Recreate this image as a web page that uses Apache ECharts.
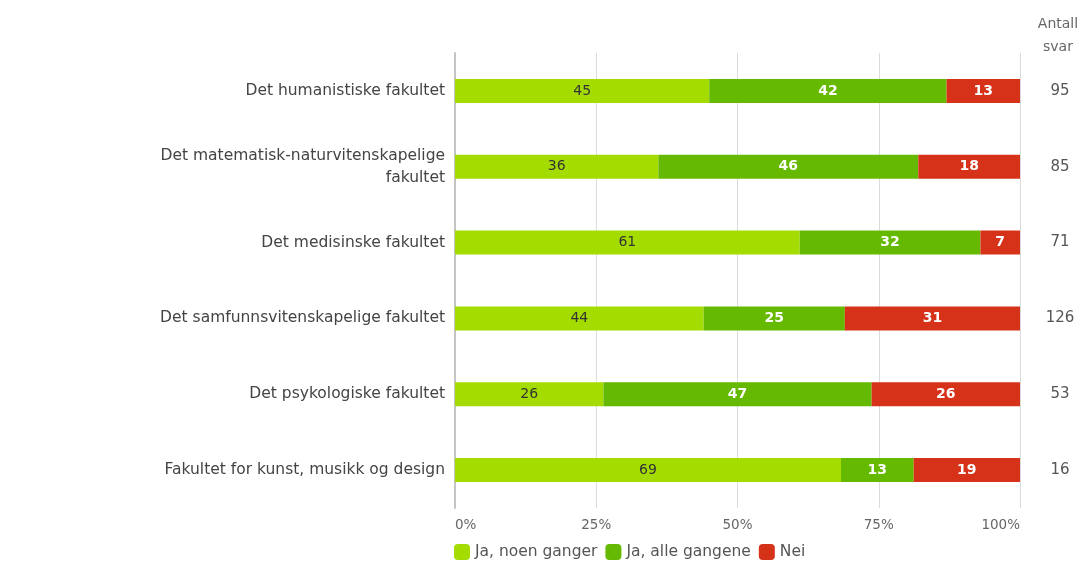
<!DOCTYPE html>
<html lang="no">
<head>
  <meta charset="UTF-8">
  <title>Svar per fakultet</title>
  <style>
    * { box-sizing: border-box; padding: 0; margin: 0; }
    html, body, #main { width: 100%; height: 100%; background: #fff; }
  </style>
  <script src="https://cdn.jsdelivr.net/npm/echarts@6/dist/echarts.min.js"></script>
</head>
<body>
  <div id="main"></div>
  <script>
    var categories = [
      'Det humanistiske fakultet',
      'Det matematisk-naturvitenskapelige\nfakultet',
      'Det medisinske fakultet',
      'Det samfunnsvitenskapelige fakultet',
      'Det psykologiske fakultet',
      'Fakultet for kunst, musikk og design'
    ];
    var noenGanger = [45, 36, 61, 44, 26, 69];
    var alleGangene = [42, 46, 32, 25, 47, 13];
    var nei = [13, 18, 7, 31, 26, 19];
    var antallSvar = [95, 85, 71, 126, 53, 16];
    var xTicks = [0, 25, 50, 75, 100];

    var font = '"DejaVu Sans", Verdana, sans-serif';

    // stolpene fylles til 100 %, etikettene viser avrundet verdi
    function share(arr, i) {
      var sum = noenGanger[i] + alleGangene[i] + nei[i];
      return { value: arr[i] / sum * 100, raw: arr[i] };
    }
    function mkSeries(name, arr, color, labelColor, bold) {
      return {
        name: name,
        type: 'bar',
        stack: 'total',
        barWidth: 24,
        itemStyle: { color: color },
        label: {
          show: true,
          color: labelColor,
          fontWeight: bold ? 'bold' : 'normal',
          fontSize: 14,
          fontFamily: font,
          formatter: function (p) { return p.data.raw; }
        },
        data: arr.map(function (v, i) { return share(arr, i); })
      };
    }

    var myChart = echarts.init(document.getElementById('main'));
    var option = {
      animation: false,
      textStyle: { fontFamily: font },
      grid: { left: 455, right: 65, top: 53, bottom: 56 },
      legend: {
        left: 454,
        bottom: 4,
        padding: 0,
        itemWidth: 16,
        itemHeight: 16,
        itemGap: 8,
        icon: 'roundRect',
        textStyle: { fontSize: 15.5, color: '#555', fontFamily: font, padding: [0, 0, 0, 0] },
        data: ['Ja, noen ganger', 'Ja, alle gangene', 'Nei']
      },
      graphic: [{
        type: 'text',
        x: 1058,
        y: 13,
        style: {
          text: 'Antall\nsvar',
          align: 'center',
          verticalAlign: 'top',
          fill: '#666',
          font: '14px ' + font,
          lineHeight: 23
        }
      }],
      xAxis: {
        type: 'value',
        min: xTicks[0],
        max: xTicks[xTicks.length - 1],
        interval: 25,
        axisLine: { show: false },
        axisTick: { show: false },
        splitLine: { lineStyle: { color: '#dcdcdc', width: 1 } },
        axisLabel: {
          margin: 10,
          color: '#666',
          fontSize: 13.5,
          alignMinLabel: 'left',
          alignMaxLabel: 'right',
          formatter: '{value}%'
        }
      },
      yAxis: [{
        type: 'category',
        inverse: true,
        data: categories,
        axisLine: { show: true, lineStyle: { color: '#c4c4c4', width: 2 } },
        axisTick: { show: false },
        axisLabel: { margin: 10, color: '#444', fontSize: 15.5, lineHeight: 22 }
      }, {
        type: 'category',
        inverse: true,
        position: 'right',
        data: antallSvar.map(String),
        axisLine: { show: false },
        axisTick: { show: false },
        axisLabel: { margin: 40, align: 'center', color: '#555', fontSize: 15 }
      }],
      series: [
        mkSeries('Ja, noen ganger', noenGanger, '#a4dc00', '#333', false),
        mkSeries('Ja, alle gangene', alleGangene, '#65b900', '#fff', true),
        mkSeries('Nei', nei, '#d6321a', '#fff', true)
      ]
    };
    myChart.setOption(option);
    window.onresize = myChart.resize;
  </script>
</body>
</html>
